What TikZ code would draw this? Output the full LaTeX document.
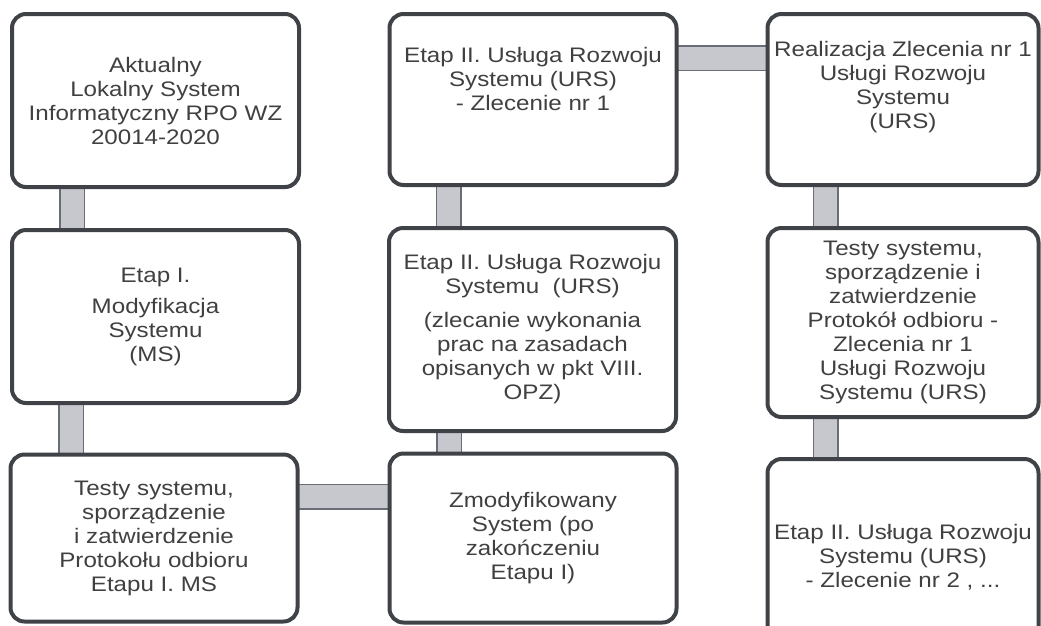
\documentclass[tikz,border=0pt]{standalone}
\usepackage{fontspec}
\setmainfont[FakeStretch=1.15]{Liberation Sans}
\usetikzlibrary{calc,backgrounds}
\definecolor{boxline}{HTML}{3F4247}
\definecolor{txt}{HTML}{404040}
\definecolor{barfill}{HTML}{C6C8CE}
\definecolor{barline}{HTML}{6A6D75}
\tikzset{
  box/.style={draw=boxline, line width=4pt, rounded corners=14pt, fill=white,
    align=center, text=txt, inner sep=2pt, outer sep=0pt,
    font=\fontsize{21}{24}\selectfont},
  bar/.style={draw=barline, line width=1.5pt, double=barfill, double distance=23pt, line cap=butt}
}
\begin{document}
\begin{tikzpicture}[x=1pt,y=-1pt]
\clip (0,0) rectangle (1041,625);
% column 1
\node[box, minimum width=287pt, minimum height=173pt] (a1) at (155.5,100.5)
  {Aktualny\\Lokalny System\\Informatyczny RPO WZ\\20014-2020};
\node[box, minimum width=287pt, minimum height=173pt] (a2) at (155.5,316.5)
  {Etap I.\\[7pt]Modyfikacja\\Systemu\\(MS)};
\node[box, minimum width=287pt, minimum height=167pt] (a3) at (154,538)
  {Testy systemu,\\sporządzenie\\ i zatwierdzenie\\Protokołu odbioru\\Etapu I. MS};
% column 2
\node[box, minimum width=287pt, minimum height=171pt] (b1) at (533,99.5)
  {Etap II. Usługa Rozwoju\\Systemu (URS)\\- Zlecenie nr 1\\[18pt]};
\node[box, minimum width=287pt, minimum height=203pt] (b2) at (532.5,329.5)
  {Etap II. Usługa Rozwoju\\Systemu\ \ (URS)\\[10pt](zlecanie wykonania\\prac na zasadach\\opisanych w pkt VIII.\\OPZ)};
\node[box, minimum width=287pt, minimum height=169pt] (b3) at (533,538)
  {Zmodyfikowany\\System (po\\zakończeniu\\Etapu I)};
% column 3
\node[box, minimum width=271pt, minimum height=171pt] (c1) at (903,99.5)
  {Realizacja Zlecenia nr 1\\Usługi Rozwoju\\Systemu\\(URS)\\[6pt]};
\node[box, minimum width=271pt, minimum height=189pt] (c2) at (903,322.5)
  {Testy systemu,\\sporządzenie i\\zatwierdzenie\\Protokół odbioru -\\Zlecenia nr 1\\Usługi Rozwoju\\Systemu (URS)};
\node[box, minimum width=271pt, minimum height=196pt] (c3) at (903,557)
  {Etap II. Usługa Rozwoju\\Systemu (URS)\\- Zlecenie nr 2 , ...};
% connector anchor points
\coordinate (v1) at ($(a1.south west)+(60,0)$);
\coordinate (v2) at ($(a2.south west)+(59,0)$);
\coordinate (v3) at ($(b1.south west)+(59,0)$);
\coordinate (v4) at ($(b2.south west)+(60,0)$);
\coordinate (v5) at ($(c1.south west)+(58,0)$);
\coordinate (v6) at ($(c2.south west)+(58,0)$);
\coordinate (h1) at ($(b1.north east)+(0,44)$);
\coordinate (h2) at ($(a3.north east)+(0,42)$);
% connectors
\begin{scope}[on background layer]
\draw[bar] (v1) -- (v1 |- a2.north);
\draw[bar] (v2) -- (v2 |- a3.north);
\draw[bar] (v3) -- (v3 |- b2.north);
\draw[bar] (v4) -- (v4 |- b3.north);
\draw[bar] (v5) -- (v5 |- c2.north);
\draw[bar] (v6) -- (v6 |- c3.north);
\draw[bar] (h1) -- (h1 -| c1.west);
\draw[bar] (h2) -- (h2 -| b3.west);
\end{scope}
\end{tikzpicture}
\end{document}
